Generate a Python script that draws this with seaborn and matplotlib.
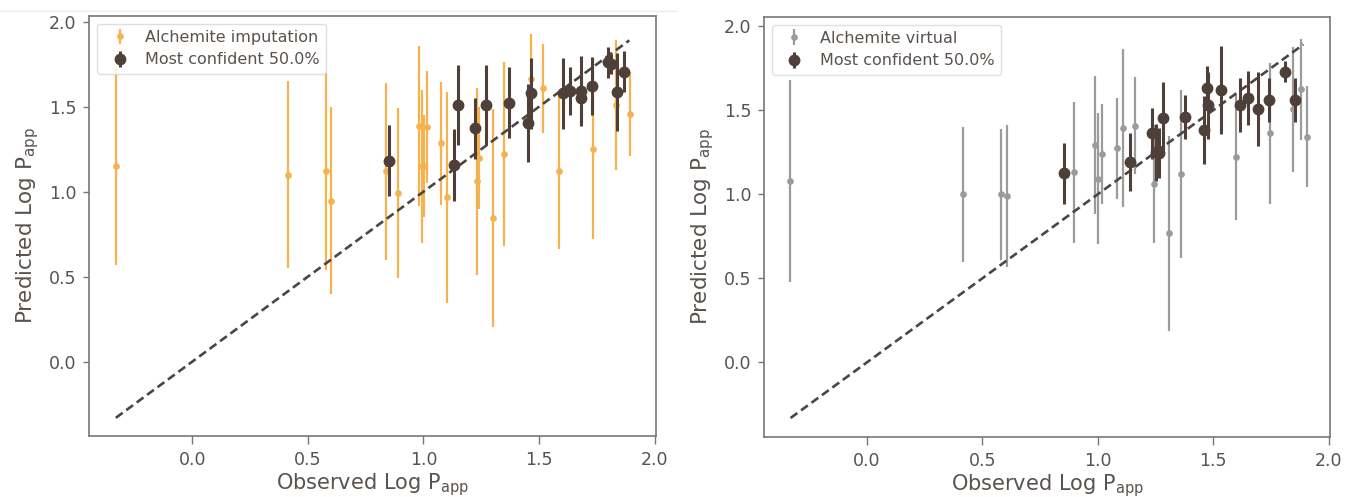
import matplotlib
matplotlib.use("Agg")
import matplotlib.pyplot as plt
import seaborn as sns
import pandas as pd
from matplotlib.lines import Line2D

# left panel: Alchemite imputation (all points)
imp_x = [-0.33, 0.415, 0.578, 0.602, 0.837, 0.889, 0.982, 0.994, 1.004, 1.014, 1.077,
         1.102, 1.23, 1.242, 1.30, 1.349, 1.463, 1.519, 1.585, 1.734, 1.833, 1.894]
imp_y = [1.15, 1.10, 1.12, 0.947, 1.12, 0.99, 1.386, 1.15, 1.15, 1.38, 1.284,
         0.966, 1.062, 1.20, 0.847, 1.22, 1.66, 1.608, 1.12, 1.249, 1.51, 1.456]
imp_err = [0.58, 0.55, 0.58, 0.55, 0.52, 0.50, 0.47, 0.45, 0.30, 0.33, 0.36,
           0.62, 0.55, 0.30, 0.64, 0.54, 0.27, 0.26, 0.46, 0.53, 0.385, 0.245]

# left panel: most confident half
imp_conf_x = [0.85, 1.133, 1.151, 1.225, 1.271, 1.37, 1.45, 1.467, 1.604, 1.635, 1.679,
              1.68, 1.729, 1.797, 1.81, 1.836, 1.869]
imp_conf_y = [1.182, 1.157, 1.51, 1.372, 1.51, 1.523, 1.406, 1.578, 1.578, 1.592, 1.592,
              1.549, 1.621, 1.76, 1.75, 1.584, 1.706]
imp_conf_err = [0.21, 0.21, 0.235, 0.18, 0.235, 0.21, 0.23, 0.21, 0.21, 0.14, 0.206,
                0.15, 0.17, 0.09, 0.06, 0.23, 0.12]

# right panel: Alchemite virtual (all points)
vir_x = [-0.333, 0.417, 0.58, 0.609, 0.896, 0.99, 1.001, 1.019, 1.084, 1.109, 1.159,
         1.243, 1.307, 1.358, 1.597, 1.746, 1.845, 1.881, 1.906]
vir_y = [1.078, 1.0, 1.0, 0.99, 1.131, 1.294, 1.092, 1.239, 1.274, 1.396, 1.408,
         1.062, 0.768, 1.118, 1.219, 1.362, 1.504, 1.624, 1.343]
vir_err = [0.60, 0.40, 0.39, 0.42, 0.42, 0.41, 0.39, 0.30, 0.30, 0.47, 0.29,
           0.35, 0.58, 0.50, 0.37, 0.42, 0.37, 0.30, 0.30]

# right panel: most confident half
vir_conf_x = [0.855, 1.14, 1.233, 1.25, 1.264, 1.284, 1.377, 1.458, 1.472, 1.475, 1.533,
              1.617, 1.649, 1.693, 1.742, 1.811, 1.852]
vir_conf_y = [1.124, 1.192, 1.362, 1.249, 1.245, 1.45, 1.46, 1.382, 1.631, 1.529, 1.618,
              1.529, 1.574, 1.509, 1.562, 1.729, 1.562]
vir_conf_err = [0.18, 0.17, 0.15, 0.17, 0.15, 0.215, 0.13, 0.20, 0.13, 0.20, 0.26,
                0.16, 0.16, 0.22, 0.13, 0.06, 0.13]

diag = [-0.33, 1.89]

ORANGE = "#f5b24e"
GREY = "#9b9b9b"
BROWN = "#4e3f38"
TEXT = "#5a524d"
SPINE = "#7d7570"

sns.set_style("ticks")
plt.rcParams["font.family"] = ["DejaVu Sans"]
plt.rcParams["text.color"] = TEXT
plt.rcParams["axes.labelcolor"] = TEXT
plt.rcParams["xtick.color"] = SPINE
plt.rcParams["ytick.color"] = SPINE
plt.rcParams["xtick.labelcolor"] = TEXT
plt.rcParams["ytick.labelcolor"] = TEXT

fig = plt.figure(figsize=(13.46, 4.97), dpi=100)
ax1 = fig.add_axes([0.0663, 0.1227, 0.4210, 0.8457])
ax2 = fig.add_axes([0.5676, 0.1207, 0.4205, 0.8457])

panels = [
    (ax1, imp_x, imp_y, imp_err, ORANGE, "Alchemite imputation",
     imp_conf_x, imp_conf_y, imp_conf_err, (-0.437, 2.035)),
    (ax2, vir_x, vir_y, vir_err, GREY, "Alchemite virtual",
     vir_conf_x, vir_conf_y, vir_conf_err, (-0.443, 2.055)),
]

for ax, x, y, e, col, lab, cx, cy, ce, ylim in panels:
    diag_df = pd.DataFrame({"obs": diag, "pred": diag})
    sns.lineplot(data=diag_df, x="obs", y="pred", ax=ax, color="#4a4644",
                 lw=1.9, dashes=False, zorder=4).lines[-1].set_dashes((3.2, 1.7))
    ax.errorbar(x, y, yerr=e, fmt="o", color=col, ms=3.8, elinewidth=1.6,
                capsize=0, label=lab, zorder=2)
    ax.errorbar(cx, cy, yerr=ce, fmt="o", color=BROWN, ms=7.5, elinewidth=2.2,
                capsize=0, label="Most confident 50.0%", zorder=5)
    ax.set_xlim(-0.445, 2.005)
    ax.set_ylim(*ylim)
    ax.set_xticks([0.0, 0.5, 1.0, 1.5, 2.0])
    ax.set_yticks([0.0, 0.5, 1.0, 1.5, 2.0])
    ax.tick_params(labelsize=12.5, width=1)
    ax.tick_params(axis="x", length=5.5, pad=5)
    ax.tick_params(axis="y", length=4, pad=5)
    for sp in ax.spines.values():
        sp.set_color(SPINE)
        sp.set_linewidth(1.2)
    ax.set_xlabel(r"Observed Log P$_{\mathrm{app}}$", fontsize=15, labelpad=2)
    ax.set_ylabel(r"Predicted Log P$_{\mathrm{app}}$", fontsize=15.5, labelpad=6)
    leg = ax.legend(loc="upper left", fontsize=11.5, frameon=True, fancybox=True,
                    handletextpad=0.6, borderpad=0.4, labelspacing=0.45)
    leg.get_frame().set_edgecolor("#d8d8d8")
    leg.get_frame().set_linewidth(1.0)

# faint screenshot edge line at the top left
fig.add_artist(Line2D([0.0, 0.502], [0.978, 0.978], transform=fig.transFigure,
                      color="#ececec", lw=1))

fig.savefig("out.png", dpi=100)
